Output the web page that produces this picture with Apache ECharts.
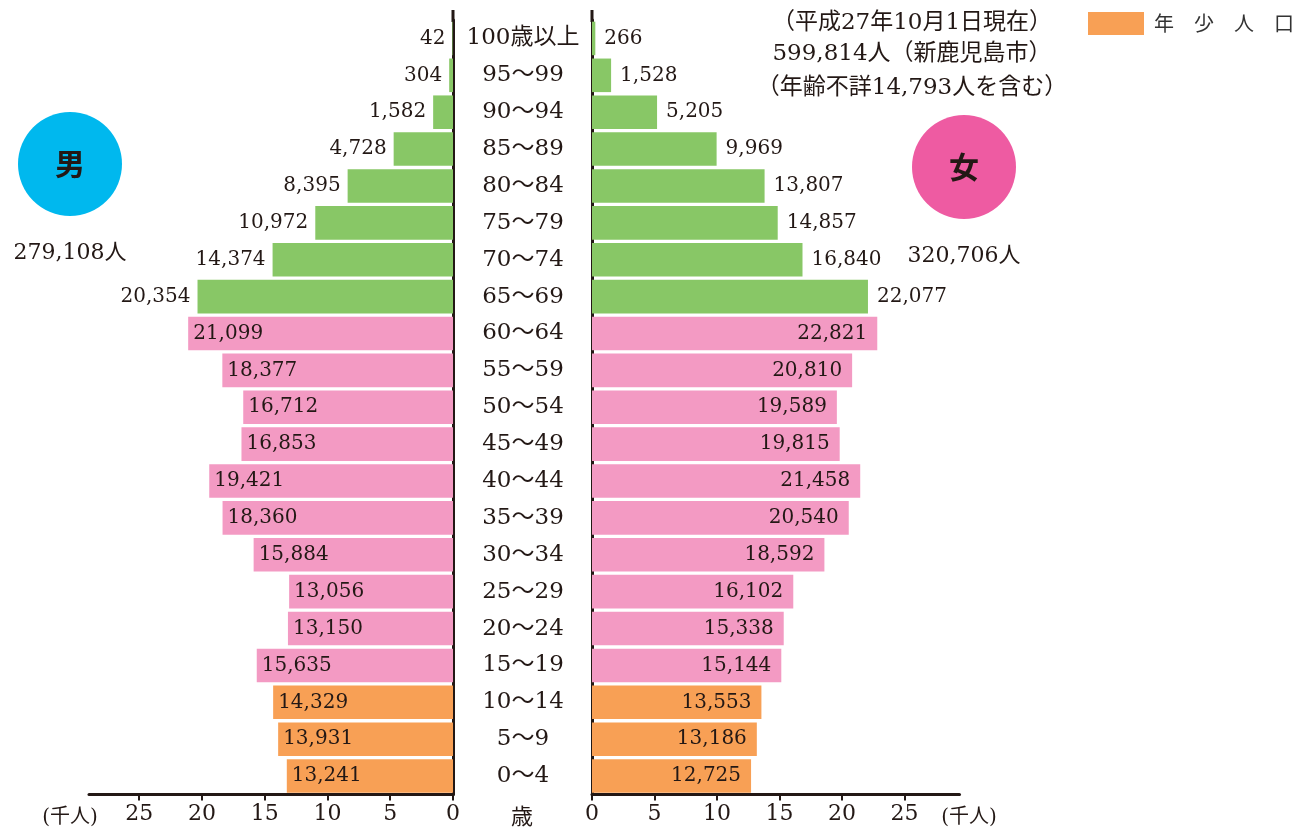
<!DOCTYPE html>
<html><head><meta charset="utf-8">
<script src="https://cdn.jsdelivr.net/npm/echarts@6/dist/echarts.min.js"></script>
<style>html,body{margin:0;padding:0;background:#fff}#c{width:1309px;height:833px}</style>
</head><body><div id="c"></div>
<script>
// Categories bottom (0~4) to top (100歳以上)
const categories = ['0〜4','5〜9','10〜14','15〜19','20〜24','25〜29','30〜34','35〜39','40〜44','45〜49','50〜54','55〜59','60〜64','65〜69','70〜74','75〜79','80〜84','85〜89','90〜94','95〜99','100歳以上'];
const male   = [13241,13931,14329,15635,13150,13056,15884,18360,19421,16853,16712,18377,21099,20354,14374,10972,8395,4728,1582,304,42];
const female = [12725,13186,13553,15144,15338,16102,18592,20540,21458,19815,19589,20810,22821,22077,16840,14857,13807,9969,5205,1528,266];
// age group of each category: 0 = 年少人口, 1 = 生産年齢人口, 2 = 老年人口
const groupOf = [0,0,0,1,1,1,1,1,1,1,1,1,1,2,2,2,2,2,2,2,2];
const groupNames = ['年少人口','生産年齢人口','老年人口'];
const groupColors = ['#F8A055','#F39AC3','#88C766'];
const tickValues = [0,5000,10000,15000,20000,25000];
const totals = {male:'279,108人', female:'320,706人'};
const note = ['（平成27年10月1日現在）','599,814人（新鹿児島市）','（年齢不詳14,793人を含む）'];

const INK = '#231815';
const SERIF = '"DejaVu Serif", "Noto Sans CJK JP", serif';
const fmt = v => Number(v).toLocaleString('en-US');

function seriesFor(side, values, gridIdx) {
  return groupNames.map((name, g) => {
    const outside = g === 2;
    let pos, dist;
    if (side === 'L') { pos = outside ? 'left' : 'insideLeft'; dist = outside ? 7 : 5; }
    else { pos = outside ? 'right' : 'insideRight'; dist = outside ? 9 : 10; }
    return {
      type: 'bar', name, stack: side, xAxisIndex: gridIdx, yAxisIndex: gridIdx,
      barWidth: '91%',
      itemStyle: { color: groupColors[g] },
      data: values.map((v, i) => groupOf[i] === g ? v : '-'),
      label: { show: true, position: pos, distance: dist, formatter: p => fmt(p.value),
               fontFamily: SERIF, fontSize: 20, color: INK },
      emphasis: { disabled: true }, animation: false
    };
  });
}

const xAxisCommon = {
  type: 'value', min: 0, splitLine: { show: false },
  axisLine: { show: true, lineStyle: { color: INK, width: 3 } },
  axisTick: { show: true, length: 6, lineStyle: { color: INK, width: 2 }, customValues: tickValues },
  axisLabel: { customValues: tickValues, formatter: v => String(v / 1000), fontFamily: SERIF, fontSize: 22, color: INK, margin: 9 }
};

const txt = (x, y, text, font) => ({ type: 'text', x, y, silent: true,
  style: { text, fill: INK, font, textAlign: 'center', textVerticalAlign: 'middle' } });

const chart = echarts.init(document.getElementById('c'), null, { renderer: 'canvas' });
chart.setOption({
  animation: false,
  grid: [
    { left: 89, top: 20, width: 364, height: 774.5 },
    { left: 592, top: 20, width: 367.5, height: 774.5 }
  ],
  xAxis: [
    Object.assign({}, xAxisCommon, { gridIndex: 0, inverse: true, max: 29000 }),
    Object.assign({}, xAxisCommon, { gridIndex: 1, max: 29400 })
  ],
  yAxis: [
    { type: 'category', gridIndex: 0, data: categories, position: 'right',
      axisLine: { show: true, onZero: false, lineStyle: { color: INK, width: 3 } },
      axisTick: { show: false },
      axisLabel: { show: true, align: 'center', margin: 70, fontFamily: SERIF, fontSize: 23, color: INK } },
    { type: 'category', gridIndex: 1, data: categories, position: 'left',
      axisLine: { show: true, onZero: false, lineStyle: { color: INK, width: 3 } },
      axisTick: { show: false }, axisLabel: { show: false } }
  ],
  legend: {
    data: ['年少人口'], left: 1088, top: 12, padding: 0, itemWidth: 56, itemHeight: 23, icon: 'rect',
    selectedMode: false, formatter: () => '年　少　人　口',
    textStyle: { fontFamily: '"Noto Sans CJK JP", sans-serif', fontSize: 20, color: '#333', padding: [0,0,0,5] }
  },
  series: seriesFor('L', male, 0).concat(seriesFor('R', female, 1)),
  graphic: [
    { type: 'line', shape: { x1: 453, y1: 10, x2: 453, y2: 22 }, style: { stroke: INK, lineWidth: 3 }, silent: true },
    { type: 'line', shape: { x1: 592, y1: 10, x2: 592, y2: 22 }, style: { stroke: INK, lineWidth: 3 }, silent: true },
    { type: 'circle', shape: { cx: 70, cy: 164, r: 52 }, style: { fill: '#00B8EE' }, silent: true },
    { type: 'circle', shape: { cx: 964, cy: 167, r: 52 }, style: { fill: '#EE5BA2' }, silent: true },
    txt(70, 164, '男', 'bold 30px "Noto Sans CJK JP"'),
    txt(964, 167, '女', 'bold 30px "Noto Sans CJK JP"'),
    txt(70, 253, totals.male, '22px ' + SERIF),
    txt(964, 256, totals.female, '22px ' + SERIF),
    txt(912, 23, note[0], '23px ' + SERIF),
    txt(912, 54, note[1], '23px ' + SERIF),
    txt(912, 88, note[2], '23px ' + SERIF),
    txt(70, 818, '(千人)', '20px ' + SERIF),
    txt(522, 818, '歳', '22px ' + SERIF),
    txt(969, 818, '(千人)', '20px ' + SERIF)
  ]
});
</script></body></html>
